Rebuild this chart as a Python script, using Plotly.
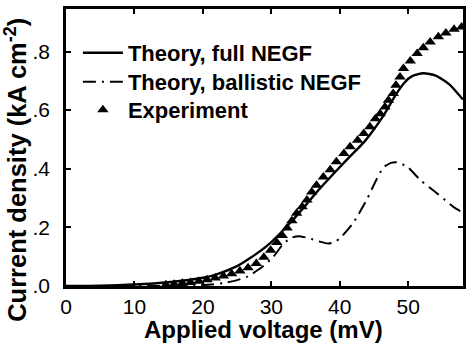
import plotly.graph_objects as go

# Theory, full NEGF
full_v = [0, 5, 10, 15, 20, 22, 25, 26.4, 28, 30, 32.7, 35, 37, 39.5, 41.5, 43.5,
          45, 46.4, 48.3, 49.5, 50.5, 52.2, 54, 56, 58]
full_j = [0, 0.001, 0.005, 0.013, 0.028, 0.04, 0.068, 0.088, 0.113, 0.15, 0.214,
          0.275, 0.33, 0.393, 0.442, 0.49, 0.535, 0.582, 0.657, 0.695, 0.715, 0.726,
          0.718, 0.688, 0.636]

# Theory, ballistic NEGF
ball_v = [0, 15, 20, 23, 25, 26.5, 28.5, 30.3, 31.8, 33, 34, 35.5, 37, 38.3, 39.3,
          40.2, 41.9, 43.9, 45.4, 46.4, 47.5, 48.3, 49.8, 51.8, 54.2, 56.6, 58]
ball_j = [0, 0.0, 0.003, 0.01, 0.02, 0.032, 0.062, 0.1, 0.145, 0.165, 0.17, 0.163,
          0.152, 0.145, 0.15, 0.167, 0.213, 0.293, 0.365, 0.405, 0.42, 0.422, 0.408,
          0.361, 0.316, 0.27, 0.25]

# Experiment
exp_v = [14.6, 15.8, 17.0, 18.2, 19.4, 20.6, 21.8, 23.0, 24.2, 25.4, 26.6, 27.8,
         28.9, 29.9, 30.8, 31.6, 32.3, 33.0, 33.7, 34.5, 35.2, 35.9, 36.6, 37.6,
         38.6, 39.5, 40.6, 41.5, 42.6, 43.5, 44.4, 45.2, 45.9, 46.6, 47.1, 47.8,
         48.2, 48.8, 49.3, 50.3, 51.3, 52.2, 53.2, 54.4, 55.5, 56.7, 57.8]
exp_j = [0.004, 0.006, 0.009, 0.012, 0.016, 0.021, 0.027, 0.034, 0.042, 0.051,
         0.062, 0.077, 0.098, 0.122, 0.148, 0.172, 0.198, 0.223, 0.248, 0.27, 0.293,
         0.321, 0.344, 0.372, 0.397, 0.424, 0.452, 0.475, 0.497, 0.52, 0.543,
         0.571, 0.588, 0.611, 0.634, 0.657, 0.685, 0.713, 0.742, 0.768, 0.793,
         0.813, 0.832, 0.85, 0.863, 0.876, 0.884]

y_ticks = [0, 0.2, 0.4, 0.6, 0.8]
y_labels = ['.0', '.2', '.4', '.6', '.8']
x_ticks = [0, 10, 20, 30, 40, 50]

FONT = 'Liberation Sans, Arial, sans-serif'

fig = go.Figure()

fig.add_trace(go.Scatter(
    x=full_v, y=full_j, mode='lines', name='Theory, full NEGF', legend='legend',
    showlegend=True,
    line=dict(color='black', width=2.4, shape='spline', smoothing=0.6)
))
fig.add_trace(go.Scatter(
    x=ball_v, y=ball_j, mode='lines', name='Theory, ballistic NEGF', legend='legend2',
    showlegend=True,
    line=dict(color='black', width=2, dash='13px,6px,2px,6px', shape='spline', smoothing=0.6)
))
fig.add_trace(go.Scatter(
    x=exp_v, y=exp_j, mode='markers', name='Experiment', legend='legend3',
    showlegend=True,
    marker=dict(symbol='triangle-up', size=10, color='black')
))

axis_common = dict(
    showline=True, linecolor='black', linewidth=2.5, mirror='allticks',
    ticks='inside', ticklen=5, tickwidth=2, tickcolor='black',
    showgrid=False, zeroline=False, automargin=False,
    tickfont=dict(family=FONT, size=21, color='black'),
)

fig.update_xaxes(range=[0, 58], tickvals=x_ticks, ticklabelstandoff=0, **axis_common)
fig.update_yaxes(range=[0, 0.945], tickvals=y_ticks, ticktext=y_labels,
                 ticklabelstandoff=9, **axis_common)

# axis titles placed by hand to sit where the original has them
fig.add_annotation(
    text='<b>Applied voltage (mV)</b>',
    xref='paper', yref='paper', x=0.4975, y=-0.158, showarrow=False,
    xanchor='center', yanchor='middle',
    font=dict(family=FONT, size=24, color='black'),
)
fig.add_annotation(
    text='<b>Current density (kA cm<sup>-2</sup>)</b>', textangle=-90,
    xref='paper', yref='paper', x=-0.128, y=0.42, showarrow=False,
    xanchor='center', yanchor='middle',
    font=dict(family=FONT, size=25.5, color='black'),
)

leg = dict(xanchor='left', yanchor='middle', bgcolor='rgba(0,0,0,0)',
           font=dict(family=FONT, size=22, color='black', weight='bold'),
           itemwidth=40, visible=True)
row_y = [(286 - 53) / 277, (286 - 82) / 277, (286 - 110) / 277]

fig.update_layout(
    width=469, height=344,
    margin=dict(l=66, r=6, t=9, b=58),
    plot_bgcolor='white', paper_bgcolor='white',
    font=dict(family=FONT, color='black'),
    showlegend=True,
    legend=dict(x=0.03, y=row_y[0], **leg),
    legend2=dict(x=0.03, y=row_y[1], **leg),
    legend3=dict(x=0.03, y=row_y[2], **leg),
)

fig.write_html("out.html", config={'displayModeBar': False},
               post_script="document.body.style.margin='0';")
